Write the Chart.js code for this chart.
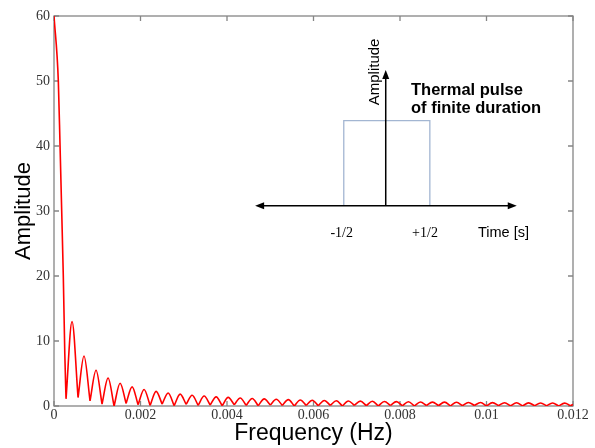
<!DOCTYPE html>
<html>
<head>
<meta charset="utf-8">
<script src="https://cdn.jsdelivr.net/npm/chart.js@4.4.1/dist/chart.umd.min.js"></script>
<style>
  html, body { margin: 0; padding: 0; background: #fff; }
  #wrap { width: 595px; height: 448px; }
</style>
</head>
<body>
<div id="wrap"><canvas id="c" width="595" height="448"></canvas></div>
<script>
const xTicks = [0, 0.002, 0.004, 0.006, 0.008, 0.01, 0.012];
const yTicks = [0, 10, 20, 30, 40, 50, 60];

// main lobe at the left
const mainFreq = [0, 0.0001, 0.00014, 0.000178, 0.000215, 0.00025, 0.000278];
const mainAmp = [60, 50, 40, 30, 20, 8, 1.1];

// bottoms of the side lobes (the curve is sampled, so they don't always reach 0)
const minFreq = [0.000278, 0.000556, 0.000833, 0.001111, 0.001389, 0.001667, 0.001944, 0.002222,
  0.0025, 0.002778, 0.003056, 0.003333, 0.003611, 0.003889, 0.004167, 0.004444, 0.004722, 0.005,
  0.005278, 0.005556, 0.005833, 0.006111, 0.006389, 0.006667, 0.006944, 0.007222, 0.0075, 0.007778,
  0.008056, 0.008333, 0.008611, 0.008889, 0.009167, 0.009444, 0.009722, 0.01, 0.010278, 0.010556,
  0.010833, 0.011111, 0.011389, 0.011667, 0.011944];
const minAmp = [1.1, 1.3, 0.8, 0.3, 0, 0.4, 0.2, 0.1, 0.3, 0.05, 0.25, 0.1, 0.15, 0.05, 0.2, 0.1,
  0.05, 0.15, 0.1, 0, 0.1, 0.05, 0.1, 0, 0.1, 0.05, 0, 0.1, 0.05, 0, 0.08, 0.05, 0, 0.05, 0.08, 0,
  0.05, 0.03, 0, 0.05, 0.03, 0, 0.05];

// tops of the side lobes
const peakFreq = [0.000417, 0.000694, 0.000972, 0.00125, 0.001528, 0.001806, 0.002083, 0.002361,
  0.002639, 0.002917, 0.003194, 0.003472, 0.00375, 0.004028, 0.004306, 0.004583, 0.004861, 0.005139,
  0.005417, 0.005694, 0.005972, 0.00625, 0.006528, 0.006806, 0.007083, 0.007361, 0.007639, 0.007917,
  0.008194, 0.008472, 0.00875, 0.009028, 0.009306, 0.009583, 0.009861, 0.010139, 0.010417, 0.010694,
  0.010972, 0.01125, 0.011528, 0.011806];
const peakAmp = [13.0, 7.7, 5.5, 4.3, 3.5, 2.95, 2.55, 2.25, 2.0, 1.82, 1.66, 1.53, 1.41, 1.32,
  1.23, 1.16, 1.09, 1.03, 0.98, 0.93, 0.89, 0.85, 0.81, 0.78, 0.75, 0.72, 0.69, 0.67, 0.65, 0.62,
  0.6, 0.59, 0.57, 0.55, 0.54, 0.52, 0.51, 0.49, 0.48, 0.47, 0.46, 0.45];

// where the line stops at the right edge
const tailFreq = 0.012;
const tailAmp = 0.25;

// every lobe is its own segment (null between), so the bottoms stay pointed
const points = mainFreq.map((f, i) => ({ x: f, y: mainAmp[i] }));
for (let i = 0; i < peakFreq.length; i++) {
  points.push({ x: minFreq[i], y: null });
  points.push({ x: minFreq[i], y: minAmp[i] });
  points.push({ x: peakFreq[i], y: peakAmp[i] });
  points.push({ x: minFreq[i + 1], y: minAmp[i + 1] });
}
points.push({ x: minFreq[minFreq.length - 1], y: null });
points.push({ x: minFreq[minFreq.length - 1], y: minAmp[minAmp.length - 1] });
points.push({ x: tailFreq, y: tailAmp });

const frameColor = '#858585';

// matlab style box with inward ticks
const framePlugin = {
  id: 'frame',
  beforeDatasetsDraw(chart) {
    const { ctx, chartArea: a, scales: { x, y } } = chart;
    ctx.save();
    ctx.strokeStyle = frameColor;
    ctx.lineWidth = 1.3;
    ctx.strokeRect(a.left, a.top, a.right - a.left, a.bottom - a.top);
    ctx.beginPath();
    xTicks.forEach(v => {
      const px = x.getPixelForValue(v);
      ctx.moveTo(px, a.bottom); ctx.lineTo(px, a.bottom - 5);
      ctx.moveTo(px, a.top); ctx.lineTo(px, a.top + 5);
    });
    yTicks.forEach(v => {
      const py = y.getPixelForValue(v);
      ctx.moveTo(a.left, py); ctx.lineTo(a.left + 5, py);
      ctx.moveTo(a.right, py); ctx.lineTo(a.right - 5, py);
    });
    ctx.stroke();
    ctx.restore();
  }
};

function arrowHead(ctx, tx, ty, dx, dy) {
  const len = 9, half = 3.5;
  const nx = -dy, ny = dx;
  ctx.beginPath();
  ctx.moveTo(tx, ty);
  ctx.lineTo(tx - dx * len + nx * half, ty - dy * len + ny * half);
  ctx.lineTo(tx - dx * len - nx * half, ty - dy * len - ny * half);
  ctx.closePath();
  ctx.fill();
}

// the little pulse sketch, placed in data units
const insetPlugin = {
  id: 'inset',
  afterDraw(chart) {
    const { ctx, scales: { x, y } } = chart;
    const X = v => x.getPixelForValue(v);
    const Y = v => y.getPixelForValue(v);
    const axisY = Y(30.8);
    ctx.save();

    // pulse box
    ctx.strokeStyle = '#a3b6d2';
    ctx.lineWidth = 1.3;
    ctx.beginPath();
    ctx.moveTo(X(0.0067), axisY);
    ctx.lineTo(X(0.0067), Y(43.9));
    ctx.lineTo(X(0.00869), Y(43.9));
    ctx.lineTo(X(0.00869), axisY);
    ctx.stroke();

    // arrows
    ctx.strokeStyle = '#000';
    ctx.fillStyle = '#000';
    ctx.lineWidth = 1.5;
    const l = X(0.00465), r = X(0.0107), sx = X(0.00767), top = Y(51.7);
    ctx.beginPath();
    ctx.moveTo(l + 4, axisY); ctx.lineTo(r - 4, axisY);
    ctx.moveTo(sx, axisY); ctx.lineTo(sx, top + 4);
    ctx.stroke();
    arrowHead(ctx, l, axisY, -1, 0);
    arrowHead(ctx, r, axisY, 1, 0);
    arrowHead(ctx, sx, top, 0, -1);

    ctx.textBaseline = 'middle';
    ctx.font = '15px "Liberation Sans", Arial, sans-serif';
    ctx.save();
    ctx.translate(X(0.00742), Y(51.4));
    ctx.rotate(-Math.PI / 2);
    ctx.textAlign = 'center';
    ctx.fillText('Amplitude', 0, 0);
    ctx.restore();

    ctx.textAlign = 'left';
    ctx.font = 'bold 16.5px "Liberation Sans", Arial, sans-serif';
    ctx.fillText('Thermal pulse', X(0.008254), Y(48.6));
    ctx.fillText('of finite duration', X(0.008254), Y(45.8));

    ctx.font = '14.5px "Liberation Sans", Arial, sans-serif';
    ctx.fillText('Time [s]', X(0.009803), Y(26.6));

    ctx.textAlign = 'center';
    ctx.font = '14px "Liberation Serif", "Times New Roman", serif';
    ctx.fillText('-1/2', X(0.006652), Y(26.6));
    ctx.fillText('+1/2', X(0.008578), Y(26.6));
    ctx.restore();
  }
};

const tickFont = { family: '"Liberation Serif", "Times New Roman", serif', size: 14 };
const titleFont = { family: '"Liberation Sans", Arial, sans-serif' };

new Chart(document.getElementById('c'), {
  type: 'line',
  data: {
    datasets: [{
      data: points,
      borderColor: '#ff0000',
      borderWidth: 1.6,
      pointRadius: 0,
      fill: false,
      spanGaps: false,
      cubicInterpolationMode: 'monotone'
    }]
  },
  options: {
    responsive: false,
    animation: false,
    events: [],
    layout: { padding: { left: 0, top: 16, right: 22, bottom: 0 } },
    plugins: { legend: { display: false }, tooltip: { enabled: false } },
    scales: {
      x: {
        type: 'linear',
        min: 0,
        max: 0.012,
        afterBuildTicks: s => { s.ticks = xTicks.map(v => ({ value: v })); },
        afterFit: s => { s.height = 42; },
        grid: { display: false, drawTicks: false },
        border: { display: false },
        ticks: {
          autoSkip: false, maxRotation: 0, padding: 1,
          color: '#333', font: tickFont,
          callback: v => String(v)
        },
        title: {
          display: true, text: 'Frequency (Hz)', color: '#000',
          font: { ...titleFont, size: 23 }, padding: { top: 0, bottom: 1 }
        }
      },
      y: {
        min: 0,
        max: 60,
        afterBuildTicks: s => { s.ticks = yTicks.map(v => ({ value: v })); },
        afterFit: s => { s.width = 54; },
        grid: { display: false, drawTicks: false },
        border: { display: false },
        ticks: { padding: 4, color: '#333', font: tickFont, callback: v => String(v) },
        title: {
          display: true, text: 'Amplitude', color: '#000',
          font: { ...titleFont, size: 22 }, padding: { top: 11, bottom: 0 }
        }
      }
    }
  },
  plugins: [framePlugin, insetPlugin]
});
</script>
</body>
</html>
